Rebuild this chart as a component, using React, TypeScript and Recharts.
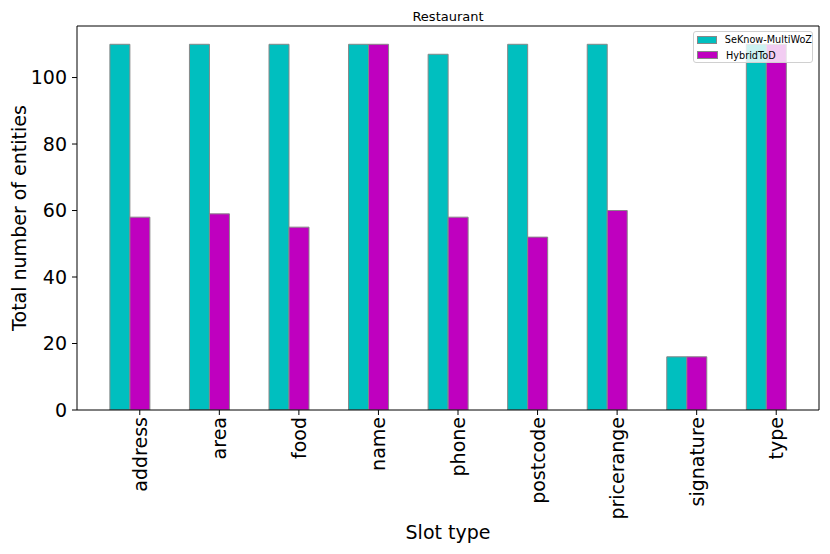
import React from 'react';
import { BarChart, Bar, XAxis, YAxis } from 'recharts';

const slots = ['address', 'area', 'food', 'name', 'phone', 'postcode', 'pricerange', 'signature', 'type'];
const seknowCounts = [110, 110, 110, 110, 107, 110, 110, 16, 110];
const hybridCounts = [58, 59, 55, 110, 58, 52, 60, 16, 110];
const yTicks = [0, 20, 40, 60, 80, 100];

const seriesNames = ['SeKnow-MultiWoZ', 'HybridToD'];
const seriesColors = ['#00BFBF', '#BF00BF'];

const data = slots.map((slot, i) => ({
  slot,
  seknow: seknowCounts[i],
  hybrid: hybridCounts[i],
}));

const FONT = '"DejaVu Sans", sans-serif';

// matplotlib puts the tick under the second bar of each pair
const SlotTick = (props: any) => {
  const { x, y, payload } = props;
  const tx = x + 10;
  return (
    <g>
      <line x1={tx} x2={tx} y1={y} y2={y + 5} stroke="#000" strokeWidth={1} />
      <text
        transform={`translate(${tx},${y + 7}) rotate(-90)`}
        textAnchor="end"
        dominantBaseline="central"
        fontSize={19}
        fontFamily={FONT}
        fill="#000"
      >
        {payload.value}
      </text>
    </g>
  );
};

const App: React.FC = () => {
  return (
    <div style={{ position: 'absolute', left: 0, top: 0, width: 830, height: 554, fontFamily: FONT, background: '#fff' }}>
      <div
        style={{
          position: 'absolute',
          left: 77,
          width: 742,
          top: 10,
          textAlign: 'center',
          fontSize: 13,
          lineHeight: '13px',
          color: '#000',
        }}
      >
        Restaurant
      </div>
      <BarChart
        width={830}
        height={554}
        data={data}
        margin={{ top: 25, right: 10, bottom: 0, left: 0 }}
        barCategoryGap="25%"
        barGap={0}
      >
        <XAxis
          dataKey="slot"
          height={144}
          padding={{ left: 13, right: 13 }}
          tickSize={0}
          tickMargin={0}
          tickLine={false}
          axisLine={{ stroke: '#000', strokeWidth: 1 }}
          tick={<SlotTick />}
          interval={0}
          label={{
            value: 'Slot type',
            position: 'insideBottom',
            offset: 15,
            style: { fontSize: 19, fill: '#000', fontFamily: FONT },
          }}
        />
        <XAxis
          xAxisId="top"
          dataKey="slot"
          orientation="top"
          height={1}
          tick={false}
          tickLine={false}
          axisLine={{ stroke: '#000', strokeWidth: 1 }}
        />
        <YAxis
          domain={[0, 115.5]}
          ticks={yTicks}
          width={77}
          tickSize={5}
          tickMargin={5}
          allowDataOverflow
          axisLine={{ stroke: '#000', strokeWidth: 1 }}
          tickLine={{ stroke: '#000', strokeWidth: 1 }}
          tick={{ fontSize: 19, fill: '#000', fontFamily: FONT }}
          label={{
            value: 'Total number of entities',
            angle: -90,
            position: 'insideLeft',
            offset: 19.5,
            style: { textAnchor: 'middle', fontSize: 19, fill: '#000', fontFamily: FONT },
          }}
        />
        <YAxis
          yAxisId="right"
          orientation="right"
          width={1}
          tick={false}
          tickLine={false}
          axisLine={{ stroke: '#000', strokeWidth: 1 }}
        />
        <Bar dataKey="seknow" name={seriesNames[0]} fill={seriesColors[0]} stroke="#888" strokeWidth={1} isAnimationActive={false} />
        <Bar dataKey="hybrid" name={seriesNames[1]} fill={seriesColors[1]} stroke="#888" strokeWidth={1} isAnimationActive={false} />
      </BarChart>
      <div
        style={{
          position: 'absolute',
          left: 693,
          top: 31,
          width: 118,
          height: 30,
          background: 'rgba(255,255,255,0.8)',
          border: '1px solid #d0d0d0',
          borderRadius: 3,
        }}
      >
        {seriesNames.map((name, i) => (
          <div key={name} style={{ display: 'flex', alignItems: 'center', height: 15.6 }}>
            <div
              style={{
                marginLeft: 3,
                width: 19,
                height: 6,
                background: seriesColors[i],
                border: '1px solid #888',
              }}
            />
            <span style={{ marginLeft: 8, fontSize: 9.7, color: '#000', whiteSpace: 'nowrap' }}>{name}</span>
          </div>
        ))}
      </div>
    </div>
  );
};

export default App;
